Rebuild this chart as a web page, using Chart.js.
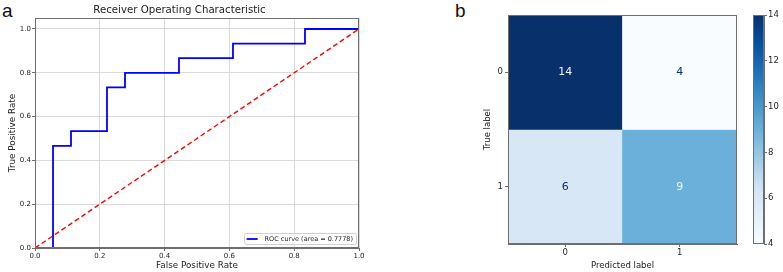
<!DOCTYPE html>
<html lang="en">
<head>
    <meta charset="UTF-8">
    <title>ROC curve and confusion matrix</title>
    <style>
        body { margin: 0; background: #fff; width: 783px; height: 272px; overflow: hidden; position: relative; }
        canvas { position: absolute; top: 0; }
        .panel-tag { position: absolute; font-family: "Liberation Sans", Arial, sans-serif; font-size: 19px; line-height: 19px; color: #111; }
    </style>
</head>
<body>

<div class="panel-tag" style="left:2px; top:1px;">a</div>
<div class="panel-tag" style="left:455px; top:1px;">b</div>

<canvas id="roc" width="385" height="272" style="left:0;"></canvas>
<canvas id="matrix" width="345" height="272" style="left:400px;"></canvas>
<canvas id="colorbar" width="38" height="272" style="left:745px;"></canvas>

<script src="https://cdn.jsdelivr.net/npm/chart.js@4.4.0/dist/chart.umd.min.js"></script>
<script>
    // ROC curve (corner points of the step curve)
    const rocFpr = [0, 0.0556, 0.0556, 0.1111, 0.1111, 0.2222, 0.2222, 0.2778, 0.2778, 0.4444, 0.4444, 0.6111, 0.6111, 0.8333, 0.8333, 1.0];
    const rocTpr = [0, 0, 0.4667, 0.4667, 0.5333, 0.5333, 0.7333, 0.7333, 0.8, 0.8, 0.8667, 0.8667, 0.9333, 0.9333, 1.0, 1.0];
    const chanceX = [0, 1];
    const chanceY = [0, 1];
    const rocLabel = 'ROC curve (area = 0.7778)';
    const rocTicks = [0, 0.2, 0.4, 0.6, 0.8, 1.0];

    // confusion matrix
    const predLabels = ['0', '1'];
    const trueLabels = ['0', '1'];
    const cmRow0 = [14, 4];
    const cmRow1 = [6, 9];
    const cbTicks = [4, 6, 8, 10, 12, 14];

    const FONT = '"DejaVu Sans", sans-serif';
    const TEXT = '#262626';
    const SPINE = '#6e6e6e';

    // "Blues"-like colormap stops (light end nudged to match the picture)
    const blues = [
        [0.000, [248, 252, 255]], [0.125, [228, 239, 250]], [0.250, [208, 226, 244]],
        [0.375, [158, 202, 228]], [0.500, [107, 176, 219]], [0.625, [66, 146, 198]],
        [0.750, [33, 113, 181]], [0.875, [8, 81, 156]], [1.000, [8, 48, 107]]
    ];
    function bluesAt(t) {
        t = Math.max(0, Math.min(1, t));
        for (let i = 1; i < blues.length; i++) {
            if (t <= blues[i][0]) {
                const [t0, c0] = blues[i - 1], [t1, c1] = blues[i];
                const f = (t - t0) / (t1 - t0);
                const c = c0.map((v, k) => Math.round(v + f * (c1[k] - v)));
                return 'rgb(' + c.join(',') + ')';
            }
        }
        return 'rgb(8,48,107)';
    }

    const frame = {
        id: 'frame',
        afterDatasetsDraw(chart) {
            const a = chart.chartArea, ctx = chart.ctx;
            ctx.save();
            ctx.strokeStyle = SPINE;
            ctx.lineWidth = 1;
            ctx.strokeRect(Math.round(a.left) + 0.5, Math.round(a.top) + 0.5, Math.round(a.right - a.left) - 1, Math.round(a.bottom - a.top) - 1);
            ctx.restore();
        }
    };

    // legend drawn inside the plot, lower right, like matplotlib
    const insideLegend = {
        id: 'insideLegend',
        afterDraw(chart) {
            const a = chart.chartArea, ctx = chart.ctx;
            const ds = chart.data.datasets[0];
            ctx.save();
            ctx.font = '6.5px ' + FONT;
            const w = ctx.measureText(ds.label).width + 24;
            const h = 11;
            const x = a.right - 3 - w, y = a.bottom - 4 - h;
            ctx.fillStyle = 'rgba(255,255,255,0.85)';
            ctx.strokeStyle = '#d0d0d0';
            ctx.lineWidth = 1;
            ctx.beginPath();
            ctx.roundRect(Math.round(x) + 0.5, Math.round(y) + 0.5, Math.round(w), h, 2);
            ctx.fill();
            ctx.stroke();
            ctx.strokeStyle = ds.borderColor;
            ctx.lineWidth = 1.8;
            ctx.beginPath();
            ctx.moveTo(x + 3, y + h / 2 + 0.5);
            ctx.lineTo(x + 14, y + h / 2 + 0.5);
            ctx.stroke();
            ctx.fillStyle = TEXT;
            ctx.textBaseline = 'middle';
            ctx.fillText(ds.label, x + 21, y + h / 2 + 0.5);
            ctx.restore();
        }
    };

    new Chart(document.getElementById('roc'), {
        type: 'line',
        data: {
            datasets: [{
                label: rocLabel,
                data: rocFpr.map((x, i) => ({ x: x, y: rocTpr[i] })),
                borderColor: '#0000ff',
                borderWidth: 1.8,
                pointRadius: 0,
                tension: 0,
                order: 1
            }, {
                label: 'chance',
                data: chanceX.map((x, i) => ({ x: x, y: chanceY[i] })),
                borderColor: '#ff0000',
                borderWidth: 1.4,
                borderDash: [5, 3],
                pointRadius: 0,
                order: 0
            }]
        },
        options: {
            responsive: false,
            animation: false,
            layout: { padding: { left: 0, right: 26, top: 0, bottom: 0 } },
            plugins: {
                legend: { display: false },
                tooltip: { enabled: false },
                title: {
                    display: true,
                    text: 'Receiver Operating Characteristic',
                    color: '#222',
                    font: { family: FONT, size: 10.2, weight: 'normal' },
                    padding: { top: 4.5, bottom: 1.3 }
                }
            },
            scales: {
                x: {
                    type: 'linear', min: 0, max: 1,
                    afterBuildTicks: s => { s.ticks = rocTicks.map(v => ({ value: v })); },
                    afterFit: s => { s.height = 24; },
                    ticks: { callback: v => v.toFixed(1), color: TEXT, font: { family: FONT, size: 7 }, padding: 0.5, maxRotation: 0 },
                    grid: { color: '#dadada', tickColor: SPINE, tickLength: 3 },
                    border: { color: SPINE },
                    title: { display: true, text: 'False Positive Rate', color: '#222', font: { family: FONT, size: 8.8 }, padding: { top: 0, bottom: 1.3 } }
                },
                y: {
                    type: 'linear', min: 0, max: 1.05,
                    afterBuildTicks: s => { s.ticks = rocTicks.map(v => ({ value: v })); },
                    afterFit: s => { s.width = 35; },
                    ticks: { callback: v => v.toFixed(1), color: TEXT, font: { family: FONT, size: 7 }, padding: 1 },
                    grid: { color: '#dadada', tickColor: SPINE, tickLength: 3 },
                    border: { color: SPINE },
                    title: { display: true, text: 'True Positive Rate', color: '#222', font: { family: FONT, size: 8.8 }, padding: { top: 7, bottom: 0 } }
                }
            }
        },
        plugins: [frame, insideLegend]
    });

    // confusion matrix as overlapping floating bars, one dataset per true-label row
    const cmRows = [cmRow0, cmRow1];
    const cmMin = Math.min(...cmRow0, ...cmRow1);
    const cmMax = Math.max(...cmRow0, ...cmRow1);
    const cmNorm = v => (v - cmMin) / (cmMax - cmMin);

    const cellText = {
        id: 'cellText',
        afterDatasetsDraw(chart) {
            const ctx = chart.ctx, xs = chart.scales.x, ys = chart.scales.y;
            const thresh = (cmMin + cmMax) / 2;
            ctx.save();
            ctx.font = '11px ' + FONT;
            ctx.textAlign = 'center';
            ctx.textBaseline = 'middle';
            cmRows.forEach((row, i) => {
                row.forEach((v, j) => {
                    ctx.fillStyle = v < thresh ? 'rgb(8,48,107)' : 'rgb(240,246,252)';
                    ctx.fillText(String(v), xs.getPixelForValue(j), ys.getPixelForValue(i));
                });
            });
            ctx.restore();
        }
    };

    new Chart(document.getElementById('matrix'), {
        type: 'bar',
        data: {
            labels: predLabels,
            datasets: cmRows.map((row, i) => ({
                label: 'true ' + trueLabels[i],
                data: row.map(() => [i - 0.5, i + 0.5]),
                backgroundColor: row.map(v => bluesAt(cmNorm(v))),
                borderWidth: 0,
                grouped: false,
                barPercentage: 1,
                categoryPercentage: 1
            }))
        },
        options: {
            responsive: false,
            animation: false,
            layout: { padding: { left: 78, right: 8, top: 15, bottom: 0 } },
            plugins: { legend: { display: false }, tooltip: { enabled: false } },
            scales: {
                x: {
                    type: 'category',
                    afterFit: s => { s.height = 28; },
                    ticks: { color: TEXT, font: { family: FONT, size: 8.5 }, padding: 1, maxRotation: 0 },
                    grid: { offset: false, drawOnChartArea: false, tickColor: SPINE, tickLength: 3 },
                    border: { color: SPINE },
                    title: { display: true, text: 'Predicted label', color: '#222', font: { family: FONT, size: 8.5 }, padding: { top: 0, bottom: 1 } }
                },
                y: {
                    type: 'linear', min: -0.5, max: 1.5, reverse: true,
                    afterBuildTicks: s => { s.ticks = trueLabels.map((_, i) => ({ value: i })); },
                    afterFit: s => { s.width = 30; },
                    ticks: { callback: v => trueLabels[v], color: TEXT, font: { family: FONT, size: 8.5 }, padding: 2 },
                    grid: { drawOnChartArea: false, tickColor: SPINE, tickLength: 3 },
                    border: { color: SPINE },
                    title: { display: true, text: 'True label', color: '#222', font: { family: FONT, size: 8.5 }, padding: { top: 5, bottom: 0 } }
                }
            }
        },
        plugins: [cellText, frame]
    });

    // colorbar: one floating bar spanning the value range, filled with the colormap
    new Chart(document.getElementById('colorbar'), {
        type: 'bar',
        data: {
            labels: [''],
            datasets: [{
                data: [[cmMin, cmMax]],
                backgroundColor: ctx => {
                    const a = ctx.chart.chartArea;
                    if (!a) return bluesAt(0.5);
                    const g = ctx.chart.ctx.createLinearGradient(0, a.bottom, 0, a.top);
                    blues.forEach(([t]) => g.addColorStop(t, bluesAt(t)));
                    return g;
                },
                borderWidth: 0,
                barPercentage: 1,
                categoryPercentage: 1
            }]
        },
        options: {
            responsive: false,
            animation: false,
            layout: { padding: { left: 8, right: 0, top: 15, bottom: 28 } },
            plugins: { legend: { display: false }, tooltip: { enabled: false } },
            scales: {
                x: { display: false },
                y: {
                    position: 'right',
                    min: cmMin, max: cmMax,
                    afterBuildTicks: s => { s.ticks = cbTicks.map(v => ({ value: v })); },
                    afterFit: s => { s.width = 19; },
                    ticks: { color: TEXT, font: { family: FONT, size: 8.5 }, padding: 1 },
                    grid: { drawOnChartArea: false, tickColor: SPINE, tickLength: 3 },
                    border: { color: SPINE }
                }
            }
        },
        plugins: [frame]
    });
</script>

</body>
</html>
